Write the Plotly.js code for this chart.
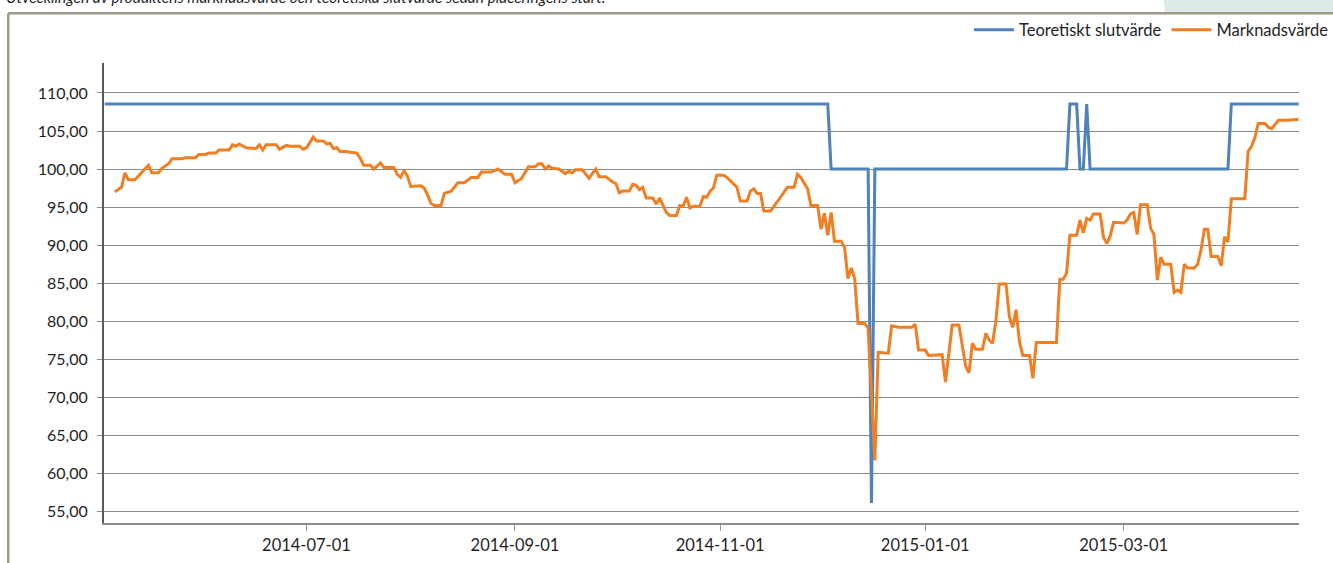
<!DOCTYPE html>
<html><head><meta charset="utf-8">
<script src="https://cdn.plot.ly/plotly-3.0.1.min.js"></script>
<style>html,body{margin:0;padding:0;background:#fff;overflow:hidden}#chart{width:1333px;height:563px;}</style>
</head><body><div id="chart"></div>
<script>
const chartTitle = "Utvecklingen av produktens marknadsvärde och teoretiska slutvärde sedan placeringens start.";
const seriesNames = ["Teoretiskt slutvärde", "Marknadsvärde"];

const theoDates = ["2014-05-02","2014-12-03","2014-12-04","2014-12-15","2014-12-16","2014-12-17",
  "2015-02-12","2015-02-13","2015-02-15","2015-02-16","2015-02-17","2015-02-18","2015-02-19",
  "2015-04-01","2015-04-02","2015-04-22"];
const theoValues = [108.55,108.55,100,100,56.1,100,100,108.55,108.55,100,100,108.55,100,100,108.55,108.55];

const marketDates = [
"2014-05-05","2014-05-07","2014-05-08","2014-05-09","2014-05-11","2014-05-15","2014-05-16","2014-05-18","2014-05-19","2014-05-21",
"2014-05-22","2014-05-25","2014-05-26","2014-05-29","2014-05-30","2014-06-01","2014-06-02","2014-06-04","2014-06-05","2014-06-08",
"2014-06-09","2014-06-10","2014-06-11","2014-06-13","2014-06-16","2014-06-17","2014-06-18","2014-06-19","2014-06-22","2014-06-23",
"2014-06-25","2014-06-26","2014-06-29","2014-06-30","2014-07-01","2014-07-03","2014-07-04","2014-07-06","2014-07-07","2014-07-08",
"2014-07-09","2014-07-10","2014-07-11","2014-07-13","2014-07-14","2014-07-16","2014-07-17","2014-07-18","2014-07-20","2014-07-21",
"2014-07-23","2014-07-24","2014-07-27","2014-07-28","2014-07-29","2014-07-30","2014-07-31","2014-08-01","2014-08-04","2014-08-05",
"2014-08-06","2014-08-07","2014-08-08","2014-08-10","2014-08-11","2014-08-13","2014-08-15","2014-08-17","2014-08-19","2014-08-21",
"2014-08-22","2014-08-25","2014-08-27","2014-08-29","2014-08-31","2014-09-01","2014-09-03","2014-09-05","2014-09-07","2014-09-08",
"2014-09-09","2014-09-10","2014-09-11","2014-09-12","2014-09-14","2014-09-16","2014-09-17","2014-09-18","2014-09-19","2014-09-21",
"2014-09-23","2014-09-25","2014-09-26","2014-09-28","2014-09-30","2014-10-01","2014-10-02","2014-10-03","2014-10-05","2014-10-06",
"2014-10-07","2014-10-08","2014-10-09","2014-10-10","2014-10-12","2014-10-13","2014-10-14","2014-10-16","2014-10-17","2014-10-19",
"2014-10-20","2014-10-21","2014-10-22","2014-10-23","2014-10-24","2014-10-26","2014-10-27","2014-10-28","2014-10-29","2014-10-30",
"2014-10-31","2014-11-02","2014-11-03","2014-11-05","2014-11-06","2014-11-07","2014-11-09","2014-11-10","2014-11-11","2014-11-12",
"2014-11-13","2014-11-14","2014-11-16","2014-11-18","2014-11-19","2014-11-21","2014-11-23","2014-11-24","2014-11-25","2014-11-27",
"2014-11-28","2014-11-30","2014-12-01","2014-12-02","2014-12-03","2014-12-04","2014-12-05","2014-12-07","2014-12-08","2014-12-09",
"2014-12-10","2014-12-11","2014-12-12","2014-12-14","2014-12-15","2014-12-17","2014-12-18","2014-12-21","2014-12-22","2014-12-24",
"2014-12-28","2014-12-29","2014-12-30","2015-01-01","2015-01-02","2015-01-06","2015-01-07","2015-01-08","2015-01-09","2015-01-11",
"2015-01-13","2015-01-14","2015-01-15","2015-01-16","2015-01-18","2015-01-19","2015-01-20","2015-01-21","2015-01-22","2015-01-23",
"2015-01-25","2015-01-26","2015-01-27","2015-01-28","2015-01-29","2015-01-30","2015-02-01","2015-02-02","2015-02-03","2015-02-09",
"2015-02-10","2015-02-11","2015-02-12","2015-02-13","2015-02-15","2015-02-16","2015-02-17","2015-02-18","2015-02-19","2015-02-20",
"2015-02-22","2015-02-23","2015-02-24","2015-02-25","2015-02-26","2015-03-01","2015-03-02","2015-03-03","2015-03-04","2015-03-05",
"2015-03-06","2015-03-08","2015-03-09","2015-03-10","2015-03-11","2015-03-12","2015-03-13","2015-03-15","2015-03-16","2015-03-17",
"2015-03-18","2015-03-19","2015-03-20","2015-03-22","2015-03-23","2015-03-24","2015-03-25","2015-03-26","2015-03-27","2015-03-29",
"2015-03-30","2015-03-31","2015-04-01","2015-04-02","2015-04-06","2015-04-07","2015-04-08","2015-04-09","2015-04-10","2015-04-12",
"2015-04-13","2015-04-14","2015-04-15","2015-04-16","2015-04-19","2015-04-21","2015-04-22"];
const marketValues = [
97.0,97.6,99.5,98.6,98.6,100.5,99.5,99.5,100.1,100.7,
101.35,101.35,101.5,101.5,101.9,101.9,102.1,102.1,102.5,102.5,
103.2,103.0,103.3,102.8,102.7,103.2,102.5,103.2,103.2,102.6,
103.1,103.0,103.0,102.6,102.8,104.2,103.7,103.7,103.3,103.4,
102.7,102.8,102.3,102.3,102.2,102.1,101.4,100.5,100.5,100.0,
100.8,100.2,100.2,99.3,98.9,99.8,99.1,97.7,97.8,97.5,
96.6,95.5,95.2,95.2,96.8,97.1,98.2,98.2,98.9,98.9,
99.6,99.6,100.0,99.3,99.3,98.2,98.8,100.3,100.3,100.7,
100.7,100.0,100.4,100.1,100.0,99.4,99.7,99.5,99.9,99.9,
98.8,100.0,99.0,99.0,98.3,98.1,96.9,97.1,97.1,98.0,
97.9,97.3,97.6,96.2,96.2,95.4,96.2,94.3,93.9,93.9,
95.2,95.1,96.3,94.9,95.1,95.1,96.4,96.3,97.1,97.5,
99.2,99.2,98.9,98.0,97.6,95.8,95.8,97.1,97.4,96.8,
96.8,94.5,94.5,95.7,96.3,97.6,97.6,99.3,98.9,97.4,
95.2,95.2,92.1,94.2,91.3,94.3,90.5,90.5,89.7,85.6,
87.0,85.6,79.7,79.7,79.1,61.7,75.9,75.8,79.4,79.2,
79.2,79.6,76.2,76.2,75.5,75.6,72.0,76.2,79.5,79.5,
74.1,73.2,77.1,76.3,76.3,78.4,77.5,77.1,80.0,84.9,
84.9,80.6,79.2,81.5,77.3,75.5,75.5,72.5,77.2,77.2,
85.5,85.5,86.3,91.3,91.3,93.3,91.6,93.5,93.3,94.1,
94.1,91.0,90.2,91.2,93.0,92.9,93.3,94.1,94.3,91.4,
95.3,95.3,92.2,91.4,85.4,88.4,87.5,87.5,83.8,84.1,
83.8,87.5,87.0,87.0,87.5,89.4,92.1,92.1,88.5,88.5,
87.3,91.1,90.4,96.1,96.1,102.3,103.0,104.1,106.0,106.0,
105.5,105.3,105.9,106.4,106.4,106.5,106.55];

const yTickValues = [55,60,65,70,75,80,85,90,95,100,105,110];
const xTickDates = ["2014-07-01","2014-09-01","2014-11-01","2015-01-01","2015-03-01"];

const FONT = "Lato, 'Open Sans', sans-serif";

const traces = [
  {x: theoDates, y: theoValues, name: seriesNames[0], type: "scatter", mode: "lines",
   line: {color: "#4f81bd", width: 3}},
  {x: marketDates, y: marketValues, name: seriesNames[1], type: "scatter", mode: "lines",
   line: {color: "#ef7f22", width: 3}}
];

const layout = {
  width: 1333, height: 563,
  margin: {l: 104, r: 34, t: 63, b: 40, autoexpand: false},
  paper_bgcolor: "#ffffff", plot_bgcolor: "#ffffff",
  separators: ", ",
  font: {family: FONT, color: "#1f1f1f", size: 16},
  showlegend: true,
  legend: {orientation: "h", x: 0.7238, xanchor: "left", y: 1.0717, yanchor: "middle",
    bgcolor: "rgba(0,0,0,0)", font: {family: FONT, size: 16.5, color: "#1f1f1f"},
    itemwidth: 40, traceorder: "normal"},
  xaxis: {type: "date", range: ["2014-05-01 19:00", "2015-04-22 03:00"],
    tickvals: xTickDates, tickformat: "%Y-%m-%d",
    ticks: "outside", ticklen: 6, tickcolor: "#9a9a9a", tickwidth: 1,
    showgrid: false, zeroline: false, showline: true, linecolor: "#8c8c8c", linewidth: 2,
    tickfont: {family: FONT, size: 16.5, color: "#1f1f1f"}},
  yaxis: {range: [53.47, 113.94], tickvals: yTickValues, tickformat: ".2f",
    ticks: "outside", ticklen: 5, tickcolor: "#8c8c8c", tickwidth: 1,
    showgrid: true, gridcolor: "#8a8a8a", gridwidth: 1,
    zeroline: false, showline: true, linecolor: "#5a5a5a", linewidth: 2,
    ticklabelstandoff: 6,
    tickfont: {family: FONT, size: 16, color: "#1f1f1f"}},
  shapes: [
    {type: "path", xref: "paper", yref: "paper",
     path: "M 0.8837 1.2 L 1.05 1.2 L 1.05 1.1087 L 0.8879 1.1087 Z",
     fillcolor: "#dce9e6", line: {width: 0}, layer: "below"},
    {type: "line", xref: "paper", yref: "paper", x0: -0.0801, x1: 1.05, y0: 1.108, y1: 1.108,
     line: {color: "#9e9a87", width: 2.5}},
    {type: "line", xref: "paper", yref: "paper", x0: -0.0801, x1: -0.0801, y0: 1.108, y1: -0.2,
     line: {color: "#9e9a87", width: 2.5}}
  ],
  annotations: [
    {text: chartTitle, xref: "paper", yref: "paper", x: -0.0837, y: 1.1435,
     xanchor: "left", yanchor: "middle", showarrow: false,
     font: {family: FONT, size: 15.5, color: "#1f1f1f", style: "italic"}}
  ]
};

Plotly.newPlot("chart", traces, layout, {staticPlot: true, displayModeBar: false});
</script>
</body></html>
